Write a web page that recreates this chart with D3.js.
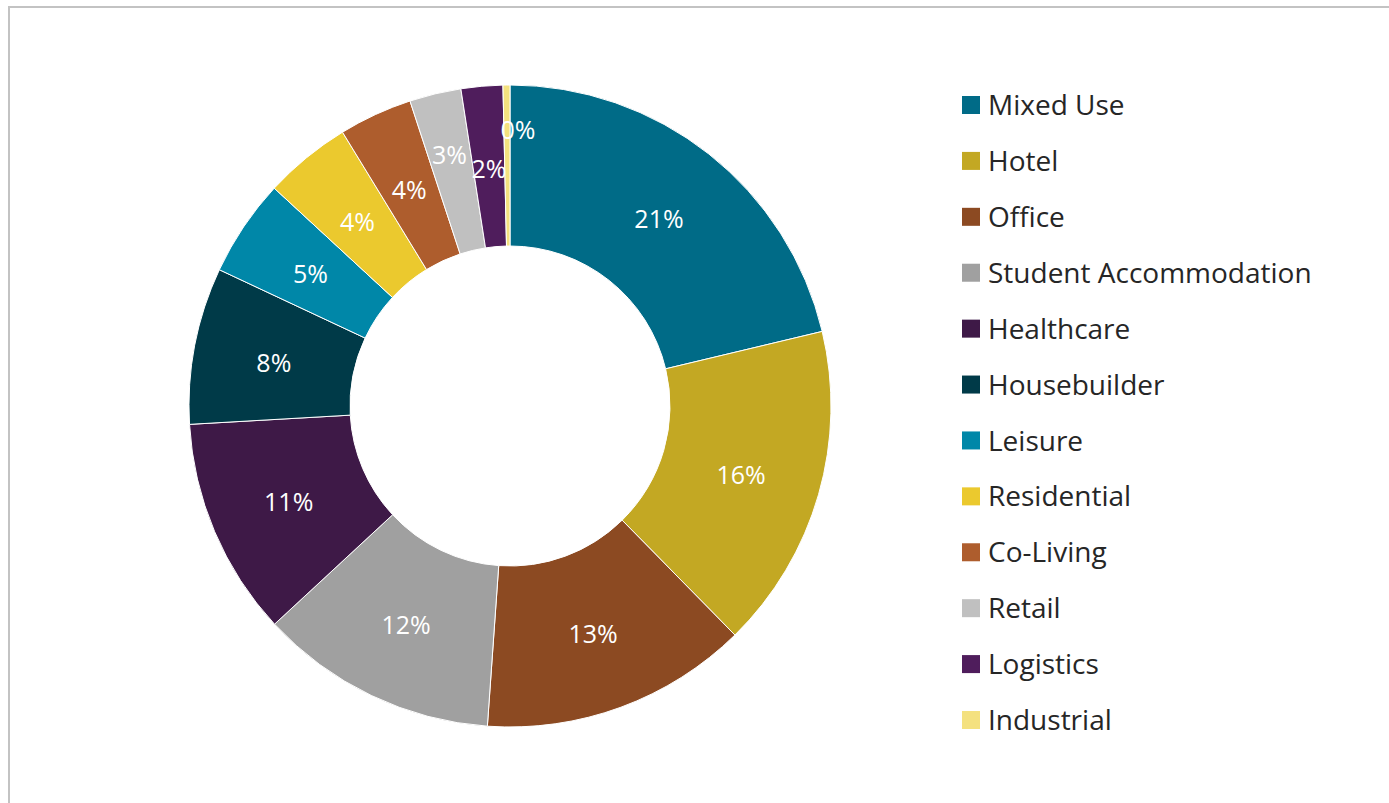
<!DOCTYPE html>
<html>
<head>
<meta charset="utf-8">
<script src="https://cdn.jsdelivr.net/npm/d3@7"></script>
<style>
  body { margin: 0; background: #fff; }
  svg { display: block; }
</style>
</head>
<body>
<svg id="chart" width="1389" height="803"></svg>
<script>
// sector shares (percent)
var categories = ["Mixed Use", "Hotel", "Office", "Student Accommodation", "Healthcare", "Housebuilder",
                  "Leisure", "Residential", "Co-Living", "Retail", "Logistics", "Industrial"];
var values = [21.3, 16.4, 13.5, 12.0, 11.0, 7.9, 4.9, 4.4, 3.7, 2.6, 2.1, 0.35];
var colours = ["#006b87", "#c3a823", "#8c4a22", "#a0a0a0", "#3e1947", "#003a48",
               "#0087a8", "#ebc92e", "#ae5d2d", "#c0c0c0", "#4f1d5c", "#f4e17f"];

var svg = d3.select("#chart"),
    cx = 510, cy = 406,
    r_out = 321, r_in = 160;

// frame
svg.append("rect")
    .attr("x", 9).attr("y", 7)
    .attr("width", 1400).attr("height", 820)
    .attr("fill", "none")
    .attr("stroke", "#c3c3c3")
    .attr("stroke-width", 2);

var total = d3.sum(values);
var data = categories.map(function(c, i) { return {name: c, value: values[i], colour: colours[i]}; });

var pie = d3.pie().sort(null).value(function(d) { return d.value; });
var arc = d3.arc().innerRadius(r_in).outerRadius(r_out);

var g = svg.append("g").attr("transform", "translate(" + cx + "," + cy + ")");

var arcs = pie(data);

g.selectAll(".slice")
    .data(arcs)
  .enter().append("path")
    .attr("class", "slice")
    .attr("d", arc)
    .attr("fill", function(d) { return d.data.colour; })
    .attr("stroke", "#fff")
    .attr("stroke-width", 1);

// labels sit at the centroid, except the narrow ones near the top that get pushed out
g.selectAll(".lbl")
    .data(arcs)
  .enter().append("text")
    .attr("class", "lbl")
    .attr("transform", function(d) {
      var a = (d.startAngle + d.endAngle) / 2,
          r = (r_in + r_out) / 2, dx = 0;
      if (d.data.name == "Retail") r = 260;
      if (d.data.name == "Industrial") { r = 278; dx = 11; }
      return "translate(" + (Math.sin(a) * r + dx) + "," + (-Math.cos(a) * r) + ")";
    })
    .attr("text-anchor", "middle")
    .attr("dy", "0.45em")
    .style("font-family", "'Open Sans', sans-serif")
    .style("font-size", "25px")
    .style("fill", "#fff")
    .text(function(d) { return Math.round(d.data.value / total * 100) + "%"; });

// legend
var y_leg = d3.scalePoint().domain(categories).range([105, 720]);

var leg = svg.append("g").attr("class", "legend");

leg.selectAll("rect")
    .data(data)
  .enter().append("rect")
    .attr("x", 962)
    .attr("y", function(d) { return y_leg(d.name) - 9; })
    .attr("width", 18).attr("height", 18)
    .attr("fill", function(d) { return d.colour; });

leg.selectAll("text")
    .data(data)
  .enter().append("text")
    .attr("x", 988)
    .attr("y", function(d) { return y_leg(d.name); })
    .attr("dy", "0.36em")
    .style("font-family", "'Open Sans', sans-serif")
    .style("font-size", "28px")
    .style("fill", "#262626")
    .text(function(d) { return d.name; });
</script>
</body>
</html>
